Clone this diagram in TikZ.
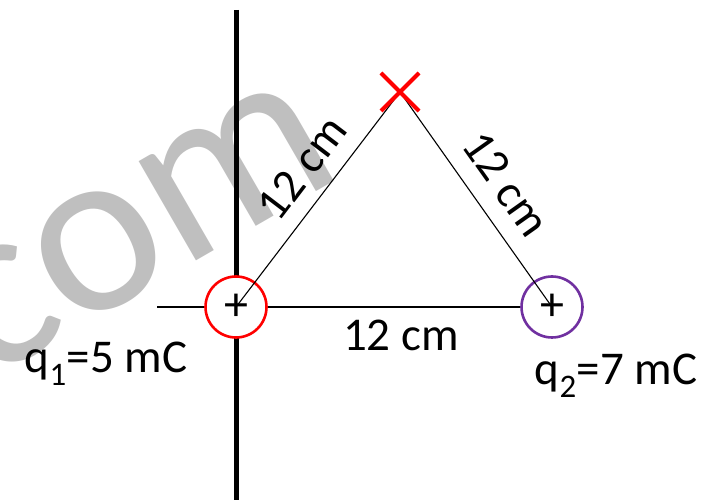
\documentclass[tikz,border=0pt]{standalone}
\usepackage{fontspec}
\setmainfont{Carlito}
\usetikzlibrary{shapes.misc}
\tikzset{chg/.style={circle,draw,line width=2.6pt,fill=white,minimum size=61pt,inner sep=0pt,font=\fontsize{48}{48}\selectfont}, lbl/.style={font=\fontsize{47}{52}\selectfont,inner sep=0pt}, side/.style={draw,line width=1.1pt}}
\definecolor{chgpurple}{RGB}{112,48,160}

\begin{document}
\begin{tikzpicture}[x=1pt,y=1pt]
\useasboundingbox (0,0) rectangle (703,500);
\node[text=black!25,rotate=30,font=\fontsize{240}{240}\selectfont,inner sep=0pt] (wm) at (138,272) {com};
\coordinate (top) at (236,490); \coordinate (bot) at (236,0); \coordinate (hl) at (157,193);
\coordinate (p1) at (236,193); \coordinate (p2) at (552,193); \coordinate (apex) at (400,408);
\draw[line width=5pt] (top) -- (bot);
\draw[side] (hl) -- (p2);
\node[chg,draw=red] (q1) at (p1) {+};
\node[chg,draw=chgpurple] (q2) at (p2) {+};
\draw[side] (q1.center) -- (apex) -- (q2.center);
\node[cross out,draw=red,line width=4pt,minimum size=34pt,inner sep=0pt] (x) at (apex) {};
% distances
\node[lbl,rotate=52.7] (d1) at (302,332) {12 cm};
\node[lbl,rotate=-54.7] (d2) at (506,316) {12 cm};
\node[lbl] (d3) at (401,165) {12 cm};
% charges
\node[lbl,anchor=base] (l1) at (106,127) {q\textsubscript{1}=5 mC};
\node[lbl,anchor=base] (l2) at (616,115) {q\textsubscript{2}=7 mC};
\end{tikzpicture}
\end{document}
